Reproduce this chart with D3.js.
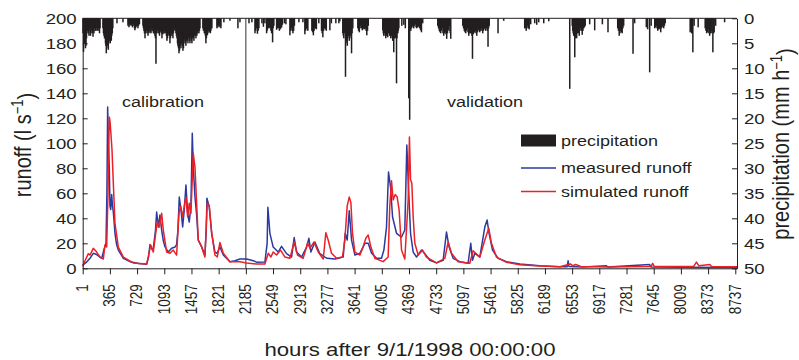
<!DOCTYPE html>
<html>
<head>
<meta charset="utf-8">
<script src="https://cdn.jsdelivr.net/npm/d3@7"></script>
<style>
  html, body { margin: 0; padding: 0; background: #fff; }
  svg { display: block; }
</style>
</head>
<body>
<div id="chart"></div>
<script>
// hours after 9/1/1998, runoff in l/s
const measured = [
  [1,2.6],[54,5],[99,8],[143,12],[188,11],[255,8],[286,15],[313,20],[325,60],[335,129],[345,100],
  [357,81],[366,50],[376,47],[389,59],[400,50],[411,45],[433,28],[455,19],[478,14.6],[545,8],[634,5.3],
  [750,3.8],[857,3.2],[879,8],[902,19],[930,15],[946,16],[975,30],[991,45],[1013,33],[1035,42.6],
  [1058,30.6],[1080,22],[1102,17.3],[1147,13],[1192,16],[1236,17],[1258,19],[1275,30],[1294,57],
  [1316,47],[1339,33],[1361,47],[1383,66.6],[1406,44],[1427,37],[1450,50],[1468,108],[1481,81],
  [1504,57],[1526,42.6],[1548,22.6],[1593,17.3],[1637,10.6],[1655,30],[1664,56],[1695,49],[1727,28],
  [1771,13],[1800,12],[1838,17],[1883,10.6],[1972,5.3],[2040,6],[2106,7.4],[2195,7.4],[2284,6.1],
  [2329,4.9],[2440,5],[2470,20],[2480,48.8],[2507,28],[2551,17],[2618,13],[2663,17.6],[2730,11.7],
  [2797,9],[2832,24.6],[2864,13],[2931,9],[2998,17],[3029,24],[3056,13],[3109,21],[3176,11.7],
  [3243,9],[3274,8],[3377,7.4],[3488,9],[3515,28],[3542,22.6],[3569,46],[3600,22.6],[3645,10.6],
  [3712,12],[3778,20],[3823,20],[3868,12],[3935,8],[4001,8],[4033,14.6],[4068,33],[4095,77],
  [4122,65],[4149,41],[4202,28],[4269,25],[4313,30.6],[4340,98.6],[4360,68],[4390,28],[4425,13],
  [4470,9],[4537,14.6],[4581,11.7],[4648,6.4],[4737,4.3],[4826,6.4],[4871,29],[4906,17],[4960,8],
  [5049,5.3],[5160,4],[5196,20],[5219,6.4],[5250,12],[5317,9],[5384,33],[5415,38.6],[5441,28],
  [5487,14.6],[5562,8],[5674,5.3],[5852,3.4],[6120,2],[6388,1.2],[6485,1.2],[6499,6],[6510,1.5],
  [6700,1],[7012,2],[7030,1],[7591,3],[7610,1],[8000,0.8],[8760,0.6]
]

const simulated = [
  [1,1.5],[32,6],[76,11.7],[99,10.6],[143,16],[188,13],[232,9],[277,7.4],[299,18.6],[322,17],[340,60],
  [357,121],[366,118],[376,110],[393,95],[411,68],[433,36],[478,17],[545,9],[678,4.3],[857,3.4],
  [879,9],[911,18.6],[946,13],[999,37.6],[1026,33],[1058,44],[1080,30.6],[1125,13],[1169,12],
  [1213,14.6],[1258,10.6],[1290,44],[1312,50],[1339,41],[1366,52],[1383,57],[1406,41],[1427,52],
  [1450,44],[1481,92],[1504,81],[1526,52],[1548,22.6],[1593,17],[1637,9],[1668,52],[1695,50],
  [1727,29],[1771,10.6],[1802,9],[1838,20.6],[1883,12],[1972,5.3],[2106,5.3],[2195,4.3],[2329,3.4],
  [2440,3.4],[2485,12],[2520,9],[2551,13],[2596,10.6],[2650,14.6],[2708,9],[2775,8],[2832,21],
  [2877,10.6],[2952,8],[3012,20],[3043,16],[3096,21],[3154,13],[3221,7.4],[3256,28.5],[3287,22.6],
  [3332,12],[3400,8],[3479,9],[3510,22.6],[3542,50],[3569,57],[3591,52.6],[3613,28],[3645,13],
  [3712,10.6],[3756,17.3],[3791,24],[3823,26.6],[3859,17],[3912,8],[4023,5.3],[4090,9],[4112,50],
  [4135,70],[4157,54.6],[4184,59],[4211,57],[4237,46.6],[4269,14.6],[4313,7.4],[4358,54.6],
  [4375,105],[4390,71],[4407,68],[4425,41],[4447,20],[4492,10.6],[4550,14.6],[4603,9],[4737,4.3],
  [4849,8],[4893,21],[4938,12],[5027,5.3],[5183,4],[5227,14],[5263,12],[5317,9],[5384,22.6],
  [5437,32],[5473,20],[5540,9],[5674,4.8],[5852,2.9],[6120,1.8],[6388,1.2],[6530,3.5],[6560,2],
  [6600,3],[6670,1.5],[7000,1],[7610,1.5],[7631,4],[7650,1.5],[8180,1.5],[8217,5],[8250,2],
  [8396,3],[8420,1.5],[8760,1.2]
]

// hourly precipitation in mm/h, only the visible hours (order does not matter)
const precipitation = [
  [5,3],[12,6.7],[18,4.5],[25,5],[31,3.5],[38,6],[45,5.5],[52,4],[58,3],[65,2.5],[72,2.5],[79,3],
  [85,3.5],[92,2],[99,2.5],[105,3.5],[112,3],[119,2],[126,2.5],[132,3],[139,3.7],[146,2.5],[152,3],
  [159,2],[166,2],[172,2.5],[179,2.5],[186,1.8],[193,2],[199,2.5],[206,2],[213,2],[219,2.5],[226,3],
  [233,2],[272,2],[279,3],[286,3.5],[293,4],[299,4],[306,5],[311,5.5],[317,7],[323,6],[330,5],
  [337,5.5],[344,6.3],[350,5],[357,4],[363,4.5],[370,5],[377,4],[384,4.5],[390,3.5],[397,3],[404,2],
  [460,1],[540,0.8],[607,1.5],[614,1.2],[620,1.8],[627,1],[634,1.5],[640,1.2],[647,1.3],[654,1],
  [660,1.5],[667,1.8],[674,1],[681,1.2],[687,1.5],[694,2],[700,2.4],[707,2],[714,1.8],[721,1.5],
  [727,1.2],[734,1.6],[741,2],[748,1.5],[754,1],[761,1.2],[808,1.5],[814,2],[821,2.5],[828,3],
  [835,4],[842,3],[848,2.2],[855,2.5],[862,3],[868,2.5],[875,3.5],[882,2.8],[888,3],[895,2],
  [902,2.5],[908,2.8],[915,3],[922,2],[928,2.5],[935,2],[942,2.6],[948,3],[955,3],[962,2.5],
  [968,3.5],[975,4],[982,9.1],[989,3],[995,2.5],[1002,2],[1009,3],[1015,2.5],[1022,3],[1029,3.5],
  [1035,2.8],[1042,2.5],[1049,2.6],[1055,3],[1062,4],[1069,3],[1075,3.2],[1082,2.5],[1089,3],
  [1095,2.5],[1102,3],[1109,2.6],[1116,3],[1122,3.5],[1129,4.5],[1136,4],[1142,3.5],[1149,3],
  [1156,3.2],[1162,3.5],[1169,5],[1176,4],[1182,3.5],[1189,3],[1196,3.5],[1202,3],[1209,4],
  [1216,3],[1222,2.5],[1229,2.2],[1236,2],[1243,2.5],[1250,3],[1256,3.5],[1263,4],[1270,5],
  [1276,5.5],[1283,6],[1290,7],[1297,6.5],[1303,5],[1310,5.5],[1316,6],[1322,5],[1329,4.5],
  [1336,5.5],[1343,6.5],[1350,6],[1356,5],[1363,4],[1370,4.5],[1376,5],[1383,5.5],[1390,4.5],
  [1396,4],[1403,4.5],[1410,5],[1416,4],[1423,3.5],[1430,4.5],[1437,5],[1443,3.5],[1450,4],
  [1457,4.5],[1463,5],[1470,4],[1477,3.5],[1483,4],[1490,4.5],[1497,3.5],[1504,3],[1510,3.5],
  [1517,4],[1524,3],[1530,3.5],[1537,2.5],[1544,3],[1550,2.5],[1557,3],[1564,2.5],[1570,2],
  [1610,2],[1617,2.5],[1623,2],[1630,3],[1637,3],[1643,3.5],[1650,5],[1657,4],[1663,3],[1670,3.4],
  [1677,3],[1683,2.5],[1690,2.5],[1697,2.8],[1703,2],[1710,3],[1717,2.5],[1723,2],[1730,2],
  [1798,2],[1805,1.5],[1812,1.8],[1818,1.2],[1825,1.5],[1838,1.8],[1845,1.5],[1851,2],[1891,0.8],
  [1972,0.5],[2079,2],[2106,0.8],
  [2227,1],[2266,0.8],[2307,3],[2317,2.5],[2327,2],[2340,3.1],[2350,2.5],[2360,2],[2400,1],
  [2420,1.7],[2440,1],[2463,3],[2470,2.5],[2480,2],[2490,2],[2500,1.8],[2510,2],[2520,2.5],
  [2530,3],[2543,4.8],[2551,2],[2560,1.5],[2597,2.3],[2605,2],[2614,1.5],[2624,2],[2634,2.5],
  [2644,2.2],[2654,2],[2664,1.8],[2674,1.3],[2701,1],[2721,1.2],[2775,3.4],[2785,2.5],[2795,2],
  [2805,2.5],[2815,3],[2825,2.5],[2835,1.5],[2895,0.8],[2949,0.8],[2975,3.2],[2985,2.5],[2995,2],
  [3005,2.2],[3015,2.5],[3069,2.5],[3079,2.8],[3089,3.4],[3099,2.5],[3109,2],[3119,2],[3129,2.2],
  [3162,1],[3198,2.5],[3207,3],[3216,3.8],[3226,2.5],[3236,2],[3249,2.2],[3262,2.5],[3310,2.4],
  [3330,1],[3390,1],[3430,1],[3443,0.6],[3483,3],[3490,3.5],[3496,4],[3503,3],[3510,2.5],
  [3519,11.7],[3524,5],[3530,4],[3537,4.5],[3543,5.5],[3550,4],[3557,3.5],[3563,3.5],[3570,4.5],
  [3577,4],[3583,3],[3590,3.5],[3600,7],[3607,3],[3617,2],[3684,2],[3694,2.5],[3704,2.8],[3714,2],
  [3724,1.5],[3734,2],[3744,2.4],[3754,2.2],[3764,2],[3774,2.2],[3784,2],[3794,2.5],[3804,3.4],
  [3814,2.5],[3824,1.5],[4018,2.4],[4025,3],[4031,3.5],[4038,3],[4045,2.5],[4051,3.5],[4058,4],
  [4065,3.5],[4072,3],[4078,3.5],[4085,3.8],[4092,3],[4098,2.5],[4105,3],[4112,3.5],[4118,3.5],
  [4125,4],[4132,3.5],[4139,3],[4145,4],[4152,4.5],[4159,4.5],[4165,6.8],[4172,4],[4179,3.5],
  [4186,4],[4193,3.5],[4202,13],[4208,4],[4213,3],[4220,3],[4226,2.5],[4233,2],[4273,1.5],
  [4300,1.3],[4320,2],[4366,16],[4378,20.3],[4393,2.5],[4403,2],[4413,1.5],[4423,1.8],[4433,2],
  [4443,1.5],[4453,1.2],[4463,1.8],[4473,2],[4483,1.8],[4493,1.5],[4503,1.8],[4513,2],[4524,2.4],
  [4536,2.8],[4553,1],[4754,1.5],[4764,2],[4774,2.5],[4784,2.8],[4794,3],[4804,2.5],[4814,2],
  [4824,3],[4834,3.5],[4844,3],[4854,2.8],[4864,3.2],[4874,4.1],[4884,3],[4894,2.2],[4904,2.5],
  [4914,1.5],[4921,3],[4928,4.1],[5089,1.5],[5099,2],[5109,2.5],[5119,2.8],[5129,3],[5139,2.5],
  [5149,2],[5159,2.8],[5169,3.5],[5179,3],[5189,2.7],[5196,3],[5203,3],[5211,3.5],[5219,8.1],
  [5228,3.2],[5236,3],[5246,2.8],[5256,2.5],[5266,3],[5276,3.5],[5286,2.8],[5296,2.2],[5306,2.5],
  [5316,2.8],[5326,2.5],[5336,2],[5346,2.5],[5356,3],[5366,2.5],[5376,2],[5386,2.2],[5396,2.5],
  [5403,2],[5410,1.8],[5419,2.5],[5427,5.7],[5435,2],[5443,1.5],[5561,3],[5637,0.5],[5918,2],
  [5928,2],[5938,2.5],[5948,2],[5958,1.5],[5968,2],[5978,2.2],[5998,1.2],[6052,1],[6079,1.3],
  [6106,0.8],[6173,1],[6240,0.6],[6521,14.1],[6554,1.5],[6561,2.5],[6567,3],[6574,3.5],[6581,3.5],
  [6588,7.8],[6594,4],[6601,3],[6607,3.5],[6614,4],[6621,3],[6628,2.5],[6638,3],[6648,3.5],
  [6658,2.5],[6668,2],[6678,2.5],[6688,3.3],[6698,2.5],[6708,2],[6718,1.8],[6728,1.5],[6788,1.2],
  [6855,2.4],[6958,1.2],[7033,2.8],[7163,2],[7173,2.5],[7183,3.5],[7193,3],[7203,2.5],[7213,2.8],
  [7223,3],[7233,2],[7243,1.5],[7368,7.1],[7390,1],[7546,1.8],[7564,2.2],[7591,10.8],[7611,1.5],
  [7659,2],[7669,1.8],[7679,1.5],[7689,2],[7699,2.5],[7709,2.2],[7719,2],[7729,2.2],[7739,2.8],
  [7749,2],[7759,1.5],[7769,1.8],[7779,2],[7789,1.5],[7799,1],[8133,2.8],[8143,2.5],[8153,3],
  [8161,3],[8169,6.8],[8186,1.5],[8240,1.8],[8334,2],[8344,2.5],[8354,3],[8364,2.8],[8374,2.2],
  [8384,3],[8394,3.5],[8404,3],[8414,2.5],[8424,3],[8437,6.8],[8446,3],[8454,2.8],[8474,1.5],
  [8594,0.8]
]

const xTicks = [1,365,729,1093,1457,1821,2185,2549,2913,3277,3641,4005,4369,4733,5097,5461,5825,
  6189,6553,6917,7281,7645,8009,8373,8737]
const yTicks = [0,20,40,60,80,100,120,140,160,180,200]
const pTicks = [0,5,10,15,20,25,30,35,40,45,50]
const splitHour = 2185

const width = 799
const height = 360
const plotLeft = 82.7, plotRight = 737, plotTop = 18.3, plotBottom = 268.3
const SX = 1.2 // the original figure is a bit stretched sideways
const ink = "#231f20"
const blue = "#2b3a9f"
const red = "#ec2027"

const x = d3.scaleLinear().domain([1, 8760]).range([plotLeft, plotRight])
const y = d3.scaleLinear().domain([0, 200]).range([plotBottom, plotTop])
const p = d3.scaleLinear().domain([0, 50]).range([plotTop, plotBottom])

const svg = d3.select("#chart").append("svg")
    .attr("width", width)
    .attr("height", height)
    .style("font-family", "'Liberation Sans', Arial, Helvetica, sans-serif")

// precipitation hangs from the top of the frame
svg.append("g")
    .attr("fill", ink)
  .selectAll("rect")
  .data(precipitation)
  .join("rect")
    .attr("x", d => x(d[0]) - 0.75)
    .attr("width", 1.5)
    .attr("y", plotTop)
    .attr("height", d => p(d[1]) - plotTop)

svg.append("line")
    .attr("x1", x(splitHour)).attr("x2", x(splitHour))
    .attr("y1", plotTop).attr("y2", plotBottom)
    .attr("stroke", "#444").attr("stroke-width", 1.1)

const line = d3.line().x(d => x(d[0])).y(d => y(d[1]))

svg.append("path")
    .datum(measured)
    .attr("fill", "none").attr("stroke", blue).attr("stroke-width", 1.5)
    .attr("stroke-linejoin", "round")
    .attr("d", line)

svg.append("path")
    .datum(simulated)
    .attr("fill", "none").attr("stroke", red).attr("stroke-width", 1.5)
    .attr("stroke-linejoin", "round")
    .attr("d", line)

// top of the frame
svg.append("line")
    .attr("x1", plotLeft).attr("x2", plotRight).attr("y1", plotTop).attr("y2", plotTop)
    .attr("stroke", ink)

const gx = svg.append("g")
    .attr("transform", `translate(0,${plotBottom})`)
    .call(d3.axisBottom(x).tickValues(xTicks).tickSize(6).tickSizeOuter(0).tickFormat(d3.format("d")))
gx.selectAll("text")
    .attr("x", -16).attr("y", 0).attr("dy", "0.3em")
    .attr("text-anchor", "end")
    .attr("transform", `scale(${SX},1) rotate(-90)`)
    .style("font-size", "13.5px")

const gy = svg.append("g")
    .attr("transform", `translate(${plotLeft},0)`)
    .call(d3.axisLeft(y).tickValues(yTicks).tickSize(-5).tickSizeOuter(0))
gy.selectAll("text")
    .attr("x", -6 / SX)
    .attr("transform", `scale(${SX},1)`)
    .style("font-size", "15.5px")

const gp = svg.append("g")
    .attr("transform", `translate(${plotRight},0)`)
    .call(d3.axisRight(p).tickValues(pTicks).tickSize(-5).tickSizeOuter(0))
gp.selectAll("text")
    .attr("x", 7 / SX)
    .attr("transform", `scale(${SX},1)`)
    .style("font-size", "15.5px")

svg.selectAll(".domain, .tick line").attr("stroke", ink)
svg.selectAll(".tick text").attr("fill", ink)
svg.selectAll("g[font-family]").attr("font-family", null)

function label(xp, yp, size, rotate) {
  return svg.append("text")
      .attr("transform", `translate(${xp},${yp}) scale(${SX},1)` + (rotate ? " rotate(-90)" : ""))
      .attr("fill", ink)
      .style("font-size", size + "px")
}

label(122, 107, 15).text("calibration")
label(447, 107, 15).text("validation")

const t1 = label(30.5, 145, 20, true).attr("text-anchor", "middle")
t1.append("tspan").text("runoff (l s")
t1.append("tspan").attr("dy", "-0.45em").style("font-size", "13px").text("\u22121")
t1.append("tspan").attr("dy", "0.45em").text(")")

const t2 = label(789, 144, 20, true).attr("text-anchor", "middle")
t2.append("tspan").text("precipitation (mm h")
t2.append("tspan").attr("dy", "-0.45em").style("font-size", "13px").text("\u22121")
t2.append("tspan").attr("dy", "0.45em").text(")")

label(410, 356, 18.5).attr("text-anchor", "middle").text("hours after 9/1/1998 00:00:00")

// legend
const legend = svg.append("g")
legend.append("rect")
    .attr("x", 521).attr("y", 134.5).attr("width", 35).attr("height", 12)
    .attr("fill", ink)
legend.append("line")
    .attr("x1", 521).attr("x2", 556).attr("y1", 168).attr("y2", 168)
    .attr("stroke", blue).attr("stroke-width", 1.4)
legend.append("line")
    .attr("x1", 521).attr("x2", 556).attr("y1", 191.5).attr("y2", 191.5)
    .attr("stroke", red).attr("stroke-width", 1.4)
label(561, 146, 15).text("precipitation")
label(561, 173, 15).text("measured runoff")
label(561, 196.5, 15).text("simulated runoff")
</script>
</body>
</html>
